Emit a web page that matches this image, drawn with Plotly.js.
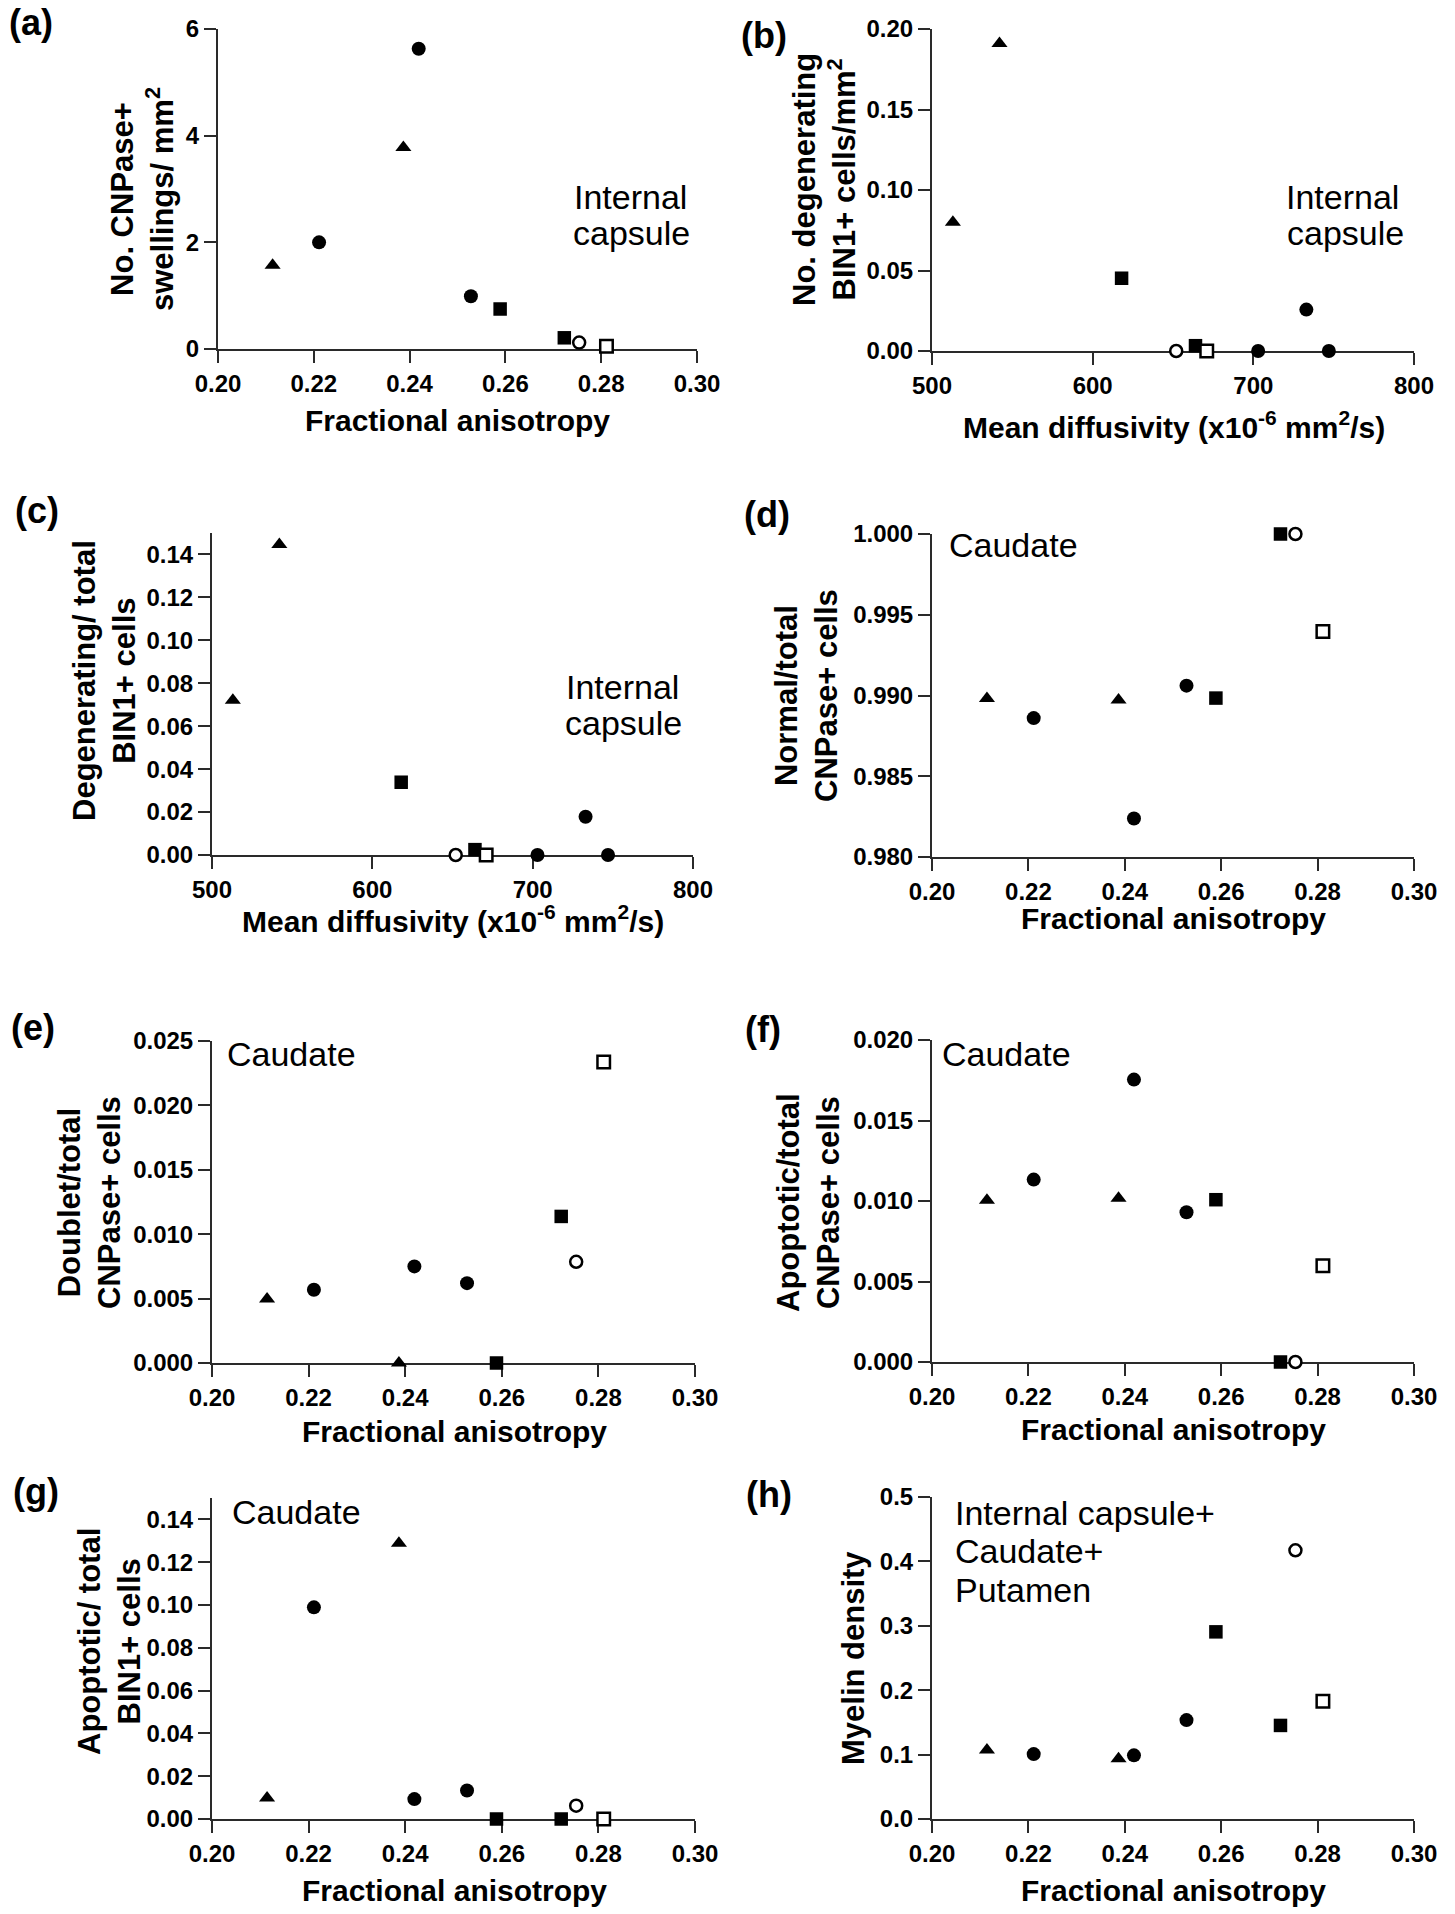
<!DOCTYPE html>
<html>
<head>
<meta charset="utf-8">
<script src="https://cdn.plot.ly/plotly-3.0.1.min.js"></script>
<style>
html,body{margin:0;padding:0;background:#ffffff;}
#chart{width:1455px;height:1914px;}
</style>
</head>
<body>
<div id="chart"></div>
<script>
// ---------------- DATA ----------------
// subject groups (marker type) in FA order
const faGroups = ['triangle','circle','triangle','circle','circle','square','square','openCircle','openSquare'];
const fractionalAnisotropy = [0.2114, 0.2211, 0.2387, 0.2419, 0.2528, 0.2589, 0.2723, 0.2754, 0.2811];
// subject groups in mean-diffusivity order
const mdGroups = ['triangle','triangle','square','openCircle','square','openSquare','circle','circle','circle'];
const meanDiffusivity = [513, 542, 618, 652, 664, 671, 703, 733, 747];

// (a) No. CNPase+ swellings / mm2 (internal capsule) vs FA
const swellingsIC = [1.57, 2.0, 3.78, 5.63, 0.99, 0.75, 0.21, 0.12, 0.05];
// (b) No. degenerating BIN1+ cells / mm2 (internal capsule) vs MD
const degenDensityIC = [0.080, 0.191, 0.0452, 0, 0.0033, 0, 0, 0.0257, 0];
// (c) Degenerating / total BIN1+ cells (internal capsule) vs MD
const degenFractionIC = [0.0721, 0.1447, 0.0339, 0, 0.0025, 0, 0, 0.0178, 0];
// (d) Normal / total CNPase+ cells (caudate) vs FA
const normalFractionCd = [0.98982, 0.98860, 0.98972, 0.98238, 0.99061, 0.98984, 1.0, 1.0, 0.99396];
// (e) Doublet / total CNPase+ cells (caudate) vs FA
const doubletFractionCd = [0.00496, 0.00569, 0, 0.0075, 0.0062, 0, 0.01138, 0.00786, 0.02337];
// (f) Apoptotic / total CNPase+ cells (caudate) vs FA
const apoptoticCNPaseCd = [0.01004, 0.01133, 0.01017, 0.01754, 0.0093, 0.01008, 0, 0, 0.00598];
// (g) Apoptotic / total BIN1+ cells (caudate) vs FA
const apoptoticBIN1Cd = [0.0098, 0.0989, 0.1288, 0.0093, 0.0133, 0, 0, 0.0062, 0];
// (h) Myelin density vs FA
const myelinDensity = [0.107, 0.1008, 0.0936, 0.0988, 0.1536, 0.2906, 0.1453, 0.4173, 0.1830];

// tick values and labels
const faTicks = [0.20, 0.22, 0.24, 0.26, 0.28, 0.30];
const faTickLabels = ['0.20','0.22','0.24','0.26','0.28','0.30'];
const mdTicks = [500, 600, 700, 800];
const mdTickLabels = ['500','600','700','800'];
const aTicks = [0, 2, 4, 6];
const aTickLabels = ['0','2','4','6'];
const bTicks = [0, 0.05, 0.10, 0.15, 0.20];
const bTickLabels = ['0.00','0.05','0.10','0.15','0.20'];
const cgTicks = [0, 0.02, 0.04, 0.06, 0.08, 0.10, 0.12, 0.14];
const cgTickLabels = ['0.00','0.02','0.04','0.06','0.08','0.10','0.12','0.14'];
const dTicks = [0.980, 0.985, 0.990, 0.995, 1.000];
const dTickLabels = ['0.980','0.985','0.990','0.995','1.000'];
const eTicks = [0, 0.005, 0.010, 0.015, 0.020, 0.025];
const eTickLabels = ['0.000','0.005','0.010','0.015','0.020','0.025'];
const fTicks = [0, 0.005, 0.010, 0.015, 0.020];
const fTickLabels = ['0.000','0.005','0.010','0.015','0.020'];
const hTicks = [0, 0.1, 0.2, 0.3, 0.4, 0.5];
const hTickLabels = ['0.0','0.1','0.2','0.3','0.4','0.5'];

// ---------------- LAYOUT HELPERS ----------------
const W = 1455, H = 1914;
const px = v => v / W;
const py = v => 1 - v / H;
const FONT = 'Liberation Sans, Arial, Helvetica, sans-serif';
const AX = '#2a2a2a';

const markerStyles = {
  triangle:   {symbol:'triangle-up', size:14, color:'#000', line:{width:0}},
  circle:     {symbol:'circle', size:14, color:'#000', line:{width:0}},
  square:     {symbol:'square', size:13.5, color:'#000', line:{width:0}},
  openCircle: {symbol:'circle', size:12, color:'#fff', line:{width:2.5, color:'#000'}},
  openSquare: {symbol:'square', size:12.5, color:'#fff', line:{width:2.5, color:'#000'}}
};

const panels = [
  {x: fractionalAnisotropy, g: faGroups, y: swellingsIC, xr:[0.2,0.3], xt:faTicks, xl:faTickLabels,
   yr:[0,6], yt:aTicks, yl:aTickLabels, box:[218,697,29,349]},
  {x: meanDiffusivity, g: mdGroups, y: degenDensityIC, xr:[500,800], xt:mdTicks, xl:mdTickLabels,
   yr:[0,0.2], yt:bTicks, yl:bTickLabels, box:[932,1414,29,351]},
  {x: meanDiffusivity, g: mdGroups, y: degenFractionIC, xr:[500,800], xt:mdTicks, xl:mdTickLabels,
   yr:[0,0.15], yt:cgTicks, yl:cgTickLabels, box:[212,693,533,855]},
  {x: fractionalAnisotropy, g: faGroups, y: normalFractionCd, xr:[0.2,0.3], xt:faTicks, xl:faTickLabels,
   yr:[0.98,1.0], yt:dTicks, yl:dTickLabels, box:[932,1414,534,857]},
  {x: fractionalAnisotropy, g: faGroups, y: doubletFractionCd, xr:[0.2,0.3], xt:faTicks, xl:faTickLabels,
   yr:[0,0.025], yt:eTicks, yl:eTickLabels, box:[212,695,1041,1363]},
  {x: fractionalAnisotropy, g: faGroups, y: apoptoticCNPaseCd, xr:[0.2,0.3], xt:faTicks, xl:faTickLabels,
   yr:[0,0.02], yt:fTicks, yl:fTickLabels, box:[932,1414,1040,1362]},
  {x: fractionalAnisotropy, g: faGroups, y: apoptoticBIN1Cd, xr:[0.2,0.3], xt:faTicks, xl:faTickLabels,
   yr:[0,0.15], yt:cgTicks, yl:cgTickLabels, box:[212,695,1498,1819]},
  {x: fractionalAnisotropy, g: faGroups, y: myelinDensity, xr:[0.2,0.3], xt:faTicks, xl:faTickLabels,
   yr:[0,0.5], yt:hTicks, yl:hTickLabels, box:[932,1414,1497,1819]}
];

const traces = [];
const layout = {
  width: W, height: H,
  margin: {l:0, r:0, t:0, b:0},
  paper_bgcolor: '#fff', plot_bgcolor: 'rgba(0,0,0,0)',
  showlegend: false,
  font: {family: FONT, color:'#000'},
  annotations: []
};

panels.forEach((p, i) => {
  const n = i + 1;
  const xa = n === 1 ? 'x' : 'x' + n;
  const ya = n === 1 ? 'y' : 'y' + n;
  Object.keys(markerStyles).forEach(grp => {
    const xs = [], ys = [];
    p.g.forEach((gg, k) => { if (gg === grp) { xs.push(p.x[k]); ys.push(p.y[k]); } });
    if (!xs.length) return;
    const ms = markerStyles[grp];
    traces.push({
      type:'scatter', mode:'markers', x: xs, y: ys, xaxis: xa, yaxis: ya,
      cliponaxis: false, hoverinfo:'skip',
      marker: {symbol: ms.symbol, size: ms.size, color: ms.color, line: ms.line}
    });
  });
  const common = {
    showgrid:false, zeroline:false, showline:true, linecolor:AX, linewidth:2,
    ticks:'outside', ticklen:12, tickwidth:2, tickcolor:AX,
    tickfont:{family:FONT, size:24, color:'#000', weight:'bold'},
    tickmode:'array', layer:'below traces', fixedrange:true
  };
  layout['xaxis' + (n === 1 ? '' : n)] = Object.assign({}, common, {
    domain:[px(p.box[0]), px(p.box[1])], range:p.xr, tickvals:p.xt, ticktext:p.xl, anchor: ya
  });
  layout['yaxis' + (n === 1 ? '' : n)] = Object.assign({}, common, {
    domain:[py(p.box[3]), py(p.box[2])], range:p.yr, tickvals:p.yt, ticktext:p.yl, anchor: xa
  });
});

function ann(text, x, y, size, bold, opts) {
  layout.annotations.push(Object.assign({
    xref:'paper', yref:'paper', x:px(x), y:py(y), text:text, showarrow:false,
    xanchor:'center', yanchor:'middle',
    font:{family:FONT, size:size, color:'#000', weight: bold ? 'bold' : 'normal'}
  }, opts || {}));
}

// panel letters
ann('(a)', 31, 23, 36, true);
ann('(b)', 764, 35, 36, true);
ann('(c)', 37, 511, 36, true);
ann('(d)', 767, 514, 36, true);
ann('(e)', 33, 1027, 36, true);
ann('(f)', 763, 1029, 36, true);
ann('(g)', 36, 1491, 36, true);
ann('(h)', 769, 1494, 36, true);

// y-axis titles
const rot = {textangle:-90};
ann('No. CNPase+<br>swellings/ mm<sup>2</sup>', 143, 199, 31, true, rot);
ann('No. degenerating<br>BIN1+ cells/mm<sup>2</sup>', 824, 180, 31, true, rot);
ann('Degenerating/ total<br>BIN1+ cells', 105, 680, 31, true, rot);
ann('Normal/total<br>CNPase+ cells', 806, 696, 31, true, rot);
ann('Doublet/total<br>CNPase+ cells', 89, 1203, 31, true, rot);
ann('Apoptotic/total<br>CNPase+ cells', 808, 1203, 31, true, rot);
ann('Apoptotic/ total<br>BIN1+ cells', 109, 1642, 31, true, rot);
ann('Myelin density', 853, 1658, 31, true, rot);

// x-axis titles
ann('Fractional anisotropy', 457, 420, 30, true);
ann('Mean diffusivity (x10<sup>-6</sup> mm<sup>2</sup>/s)', 1174, 425, 30, true);
ann('Mean diffusivity (x10<sup>-6</sup> mm<sup>2</sup>/s)', 453, 919, 30, true);
ann('Fractional anisotropy', 1173, 919, 30, true);
ann('Fractional anisotropy', 454, 1431, 30, true);
ann('Fractional anisotropy', 1173, 1429, 30, true);
ann('Fractional anisotropy', 454, 1890, 30, true);
ann('Fractional anisotropy', 1173, 1890, 30, true);

// region labels
ann('Internal', 630, 197, 34, false);
ann('capsule', 631, 233, 34, false);
ann('Internal', 1342, 197, 34, false);
ann('capsule', 1345, 233, 34, false);
ann('Internal', 622, 687, 34, false);
ann('capsule', 623, 723, 34, false);
ann('Caudate', 1013, 545, 34, false);
ann('Caudate', 291, 1054, 34, false);
ann('Caudate', 1006, 1054, 34, false);
ann('Caudate', 296, 1512, 34, false);
ann('Internal capsule+', 953, 1513, 34, false, {xanchor:'left'});
ann('Caudate+', 953, 1551, 34, false, {xanchor:'left'});
ann('Putamen', 953, 1590, 34, false, {xanchor:'left'});

Plotly.newPlot('chart', traces, layout, {staticPlot:true, displayModeBar:false});
</script>
</body>
</html>
